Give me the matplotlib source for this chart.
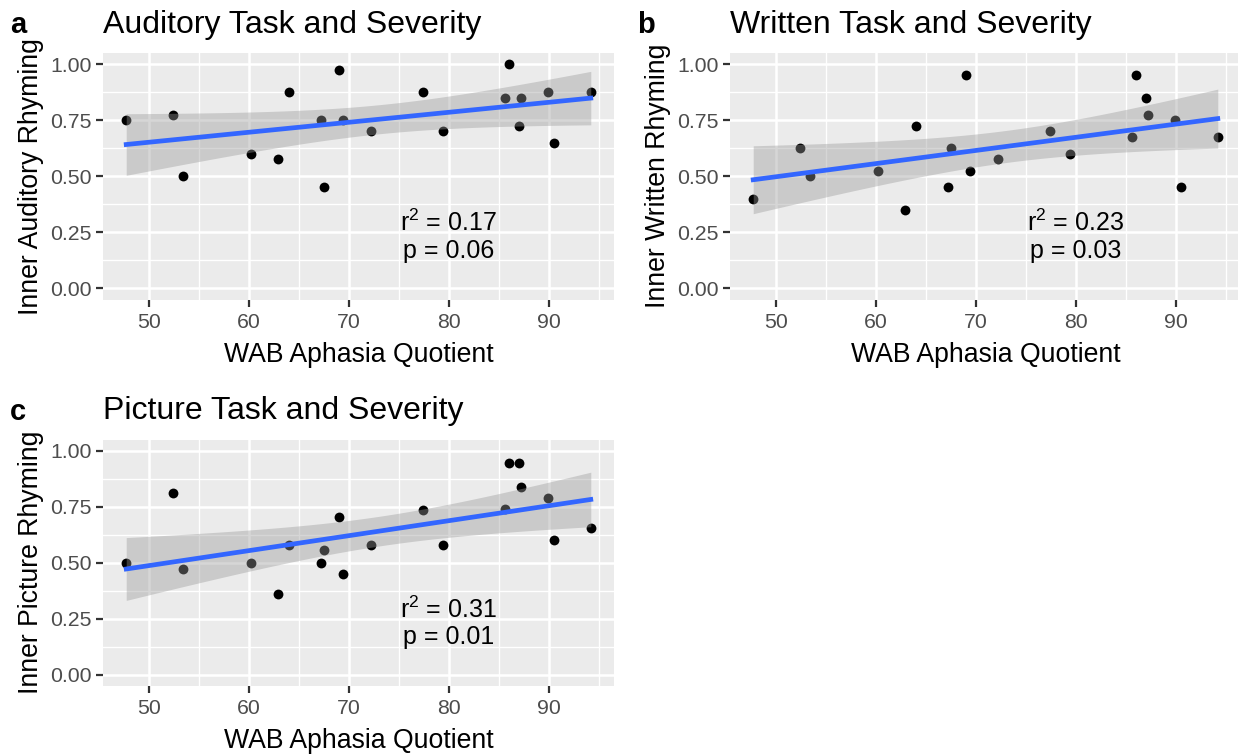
import numpy as np
import matplotlib
matplotlib.use("Agg")
import matplotlib.pyplot as plt
from matplotlib.ticker import MultipleLocator

plt.rcParams['font.family'] = ['Liberation Sans', 'DejaVu Sans']
plt.rcParams['mathtext.fontset'] = 'custom'
plt.rcParams['mathtext.rm'] = 'Liberation Sans'
plt.rcParams['mathtext.it'] = 'Liberation Sans'
plt.rcParams['mathtext.default'] = 'regular'

# WAB aphasia quotient (shared by all three panels)
wab_aq = [47.7, 52.4, 53.4, 60.2, 62.9, 64.0, 67.2, 67.5, 69.0, 69.4,
          72.2, 77.4, 79.4, 85.6, 86.0, 87.0, 87.2, 89.9, 90.5, 94.2]

# inner rhyming accuracy per task
auditory = [0.75, 0.775, 0.50, 0.60, 0.575, 0.875, 0.75, 0.45, 0.975, 0.75,
            0.70, 0.875, 0.70, 0.85, 1.00, 0.725, 0.85, 0.875, 0.65, 0.875]
written = [0.40, 0.625, 0.50, 0.525, 0.35, 0.725, 0.45, 0.625, 0.95, 0.525,
           0.575, 0.70, 0.60, 0.675, 0.95, 0.85, 0.775, 0.75, 0.45, 0.675]
picture = [0.50, 0.81, 0.47, 0.50, 0.36, 0.58, 0.50, 0.555, 0.705, 0.45,
           0.58, 0.735, 0.58, 0.74, 0.945, 0.945, 0.84, 0.79, 0.60, 0.655]

panel_letters = ['a', 'b', 'c']
titles = ['Auditory Task and Severity', 'Written Task and Severity', 'Picture Task and Severity']
ylabels = ['Inner Auditory Rhyming', 'Inner Written Rhyming', 'Inner Picture Rhyming']
stats = [('0.17', '0.06'), ('0.23', '0.03'), ('0.31', '0.01')]
series = [auditory, written, picture]

W, H = 1238, 756
fig = plt.figure(figsize=(W / 100, H / 100), dpi=100)

# panel boxes in pixels: left, top, width, height
boxes = [(103, 53, 511, 246.5), (730, 53, 511, 246.5), (103, 439.5, 511, 246.5)]

T975 = 2.100922  # t quantile, df = 18

x = np.array(wab_aq)
xr = x.max() - x.min()
xlim = (x.min() - 0.05 * xr, x.max() + 0.05 * xr)

for i in range(3):
    left, top, w, h = boxes[i]
    ax = fig.add_axes([left / W, 1 - (top + h) / H, w / W, h / H])
    y = np.array(series[i])

    ax.set_facecolor('#EBEBEB')
    for s in ax.spines.values():
        s.set_visible(False)
    ax.set_xlim(*xlim)
    ax.set_ylim(-0.05, 1.05)
    ax.xaxis.set_major_locator(MultipleLocator(10))
    ax.xaxis.set_minor_locator(MultipleLocator(5))
    ax.yaxis.set_minor_locator(MultipleLocator(0.125))
    ax.set_yticks([0, 0.25, 0.5, 0.75, 1.0])
    ax.set_yticklabels(['0.00', '0.25', '0.50', '0.75', '1.00'])
    ax.grid(which='major', color='white', lw=1.85)
    ax.grid(which='minor', color='white', lw=0.95)
    ax.set_axisbelow(True)
    ax.tick_params(which='major', length=4.8, width=1.6, color='#333333',
                   labelsize=15.3, labelcolor='#4D4D4D', pad=3.2)
    ax.tick_params(axis='x', which='major', pad=4.8)
    ax.tick_params(which='minor', length=0)

    ax.scatter(x, y, s=50, color='black', lw=0, zorder=2)

    # linear fit with 95% band
    b, a = np.polyfit(x, y, 1)
    n = len(x)
    resid = y - (a + b * x)
    sig = np.sqrt(np.sum(resid ** 2) / (n - 2))
    sxx = np.sum((x - x.mean()) ** 2)
    xs = np.linspace(x.min(), x.max(), 80)
    ys = a + b * xs
    se = sig * np.sqrt(1 / n + (xs - x.mean()) ** 2 / sxx)
    ax.fill_between(xs, ys - T975 * se, ys + T975 * se, color='#999999',
                    alpha=0.4, lw=0, zorder=3)
    ax.plot(xs, ys, color='#3366FF', lw=3.4, zorder=4)

    r2, p = stats[i]
    ax.text(80, 0.255, r'$r^2$ = ' + r2, ha='center', va='baseline', fontsize=18, zorder=5)
    ax.text(80, 0.137, 'p = ' + p, ha='center', va='baseline', fontsize=18, zorder=5)

    ax.set_xlabel('WAB Aphasia Quotient', fontsize=19.2, labelpad=7)
    ax.set_ylabel(ylabels[i], fontsize=19.2, labelpad=4.8)

    fig.text(left / W, 1 - (top - 20) / H, titles[i], fontsize=23,
             ha='left', va='baseline')
    fig.text((left - 93) / W, 1 - (top - 20) / H, panel_letters[i], fontsize=21,
             fontweight='bold', ha='left', va='baseline')

fig.savefig('out.png', dpi=100)
